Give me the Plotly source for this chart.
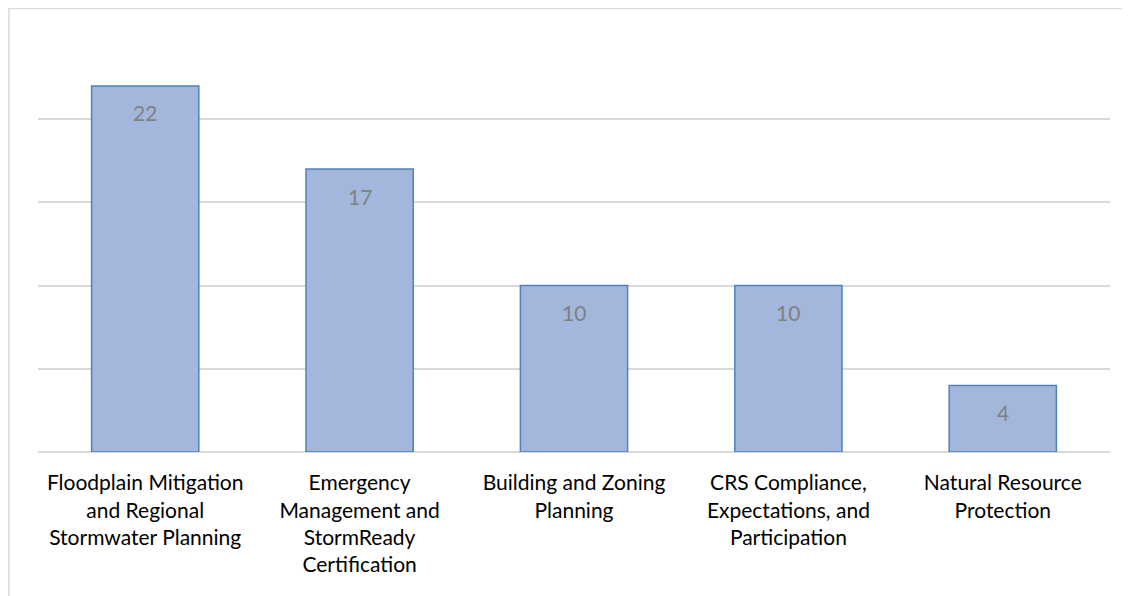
import plotly.graph_objects as go

categories = [
    "Floodplain Mitigation<br>and Regional<br>Stormwater Planning",
    "Emergency<br>Management and<br>StormReady<br>Certification",
    "Building and Zoning<br>Planning",
    "CRS Compliance,<br>Expectations, and<br>Participation",
    "Natural Resource<br>Protection",
]
values = [22, 17, 10, 10, 4]
y_ticks = [0, 5, 10, 15, 20, 25]

FONT = "Lato, Carlito, Calibri, sans-serif"

fig = go.Figure()
fig.add_trace(go.Bar(
    x=categories,
    y=values,
    marker=dict(color="#A2B7DB", line=dict(color="#4F81BD", width=1.5)),
    hoverinfo="skip",
))

for c, v in zip(categories, values):
    fig.add_annotation(
        x=c, y=v, text=str(v), showarrow=False,
        yanchor="middle", yshift=-27,
        font=dict(family=FONT, size=21, color="#808080"),
    )

# outer chart border (only top/left visible)
fig.add_shape(type="rect", xref="paper", yref="paper",
              x0=-0.0271, x1=1.2, y0=-0.8, y1=1.066,
              line=dict(color="#D9D9D9", width=1.5), fillcolor="rgba(0,0,0,0)",
              layer="below")

fig.update_layout(
    width=1122, height=588,
    margin=dict(l=30, r=20, t=28, b=144),
    paper_bgcolor="white", plot_bgcolor="white",
    bargap=0.5,
    showlegend=False,
    font=dict(family=FONT, size=21, color="#000000"),
    xaxis=dict(showgrid=False, showline=False, ticks="outside", ticklen=12,
               tickcolor="rgba(0,0,0,0)", tickfont=dict(size=21, color="#000000")),
    yaxis=dict(range=[0, 25], tickvals=y_ticks, showticklabels=False,
               showgrid=True, gridcolor="#D9D9D9", gridwidth=1.5,
               zeroline=True, zerolinecolor="#D9D9D9", zerolinewidth=1.5,
               showline=False),
)

fig.write_html("out.html")
